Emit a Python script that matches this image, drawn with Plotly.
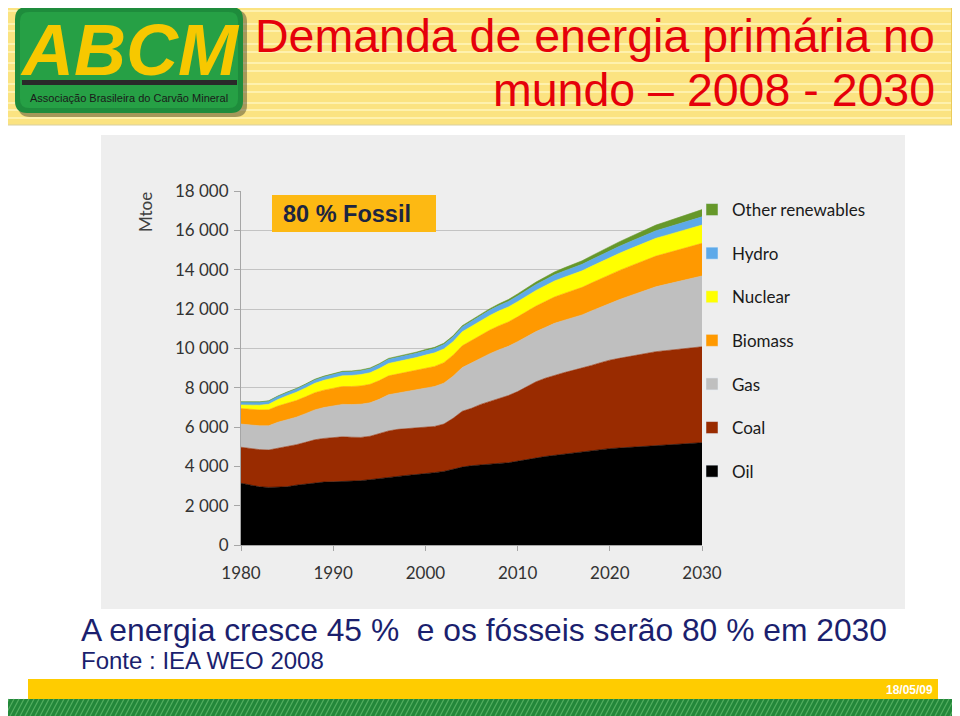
import plotly.graph_objects as go

# ---------------- data (Mtoe) ----------------
years = list(range(1980, 2031))

oil = [3140, 3040, 2960, 2930, 2950, 2960, 3040, 3100, 3170, 3200,
       3210, 3220, 3240, 3270, 3320, 3380, 3450, 3500, 3540, 3580,
       3620, 3680, 3740, 3850, 3960, 4030, 4080, 4120, 4150, 4180,
       4250, 4330, 4420, 4500, 4560, 4620, 4680, 4740, 4800, 4850,
       4900, 4930, 4960, 4990, 5020, 5050, 5080, 5110, 5140, 5170,
       5200]
coal = [1830, 1860, 1890, 1900, 1970, 2040, 2060, 2120, 2180, 2220,
        2260, 2280, 2240, 2200, 2210, 2270, 2350, 2380, 2380, 2370,
        2370, 2350, 2410, 2590, 2840, 2920, 3070, 3180, 3300, 3420,
        3550, 3720, 3880, 3980, 4080, 4140, 4200, 4250, 4330, 4420,
        4500, 4560, 4620, 4670, 4730, 4780, 4800, 4820, 4840, 4860,
        4880]
gas = [1180, 1200, 1210, 1230, 1320, 1370, 1400, 1460, 1520, 1570,
       1610, 1650, 1660, 1690, 1700, 1760, 1840, 1850, 1870, 1930,
       1990, 2030, 2080, 2140, 2220, 2300, 2370, 2430, 2480, 2500,
       2540, 2550, 2550, 2580, 2630, 2660, 2680, 2710, 2770, 2830,
       2890, 2980, 3060, 3140, 3220, 3300, 3360, 3420, 3480, 3540,
       3600]
biomass = [790, 800, 805, 815, 825, 835, 845, 855, 870, 885,
           900, 910, 920, 930, 940, 950, 960, 970, 980, 990,
           1000, 1020, 1040, 1070, 1110, 1150, 1180, 1200, 1220, 1240,
           1260, 1280, 1300, 1320, 1340, 1360, 1380, 1400, 1420, 1440,
           1460, 1480, 1500, 1520, 1540, 1560, 1580, 1600, 1620, 1640,
           1660]
nuclear = [180, 215, 245, 280, 330, 385, 420, 450, 480, 500,
           525, 545, 560, 575, 590, 610, 630, 630, 640, 660,
           675, 690, 700, 690, 715, 725, 735, 745, 755, 765,
           775, 785, 795, 805, 815, 825, 833, 841, 849, 857,
           865, 873, 881, 889, 897, 905, 910, 915, 920, 925,
           930]
hydro = [150, 152, 155, 160, 163, 166, 170, 172, 176, 178,
         184, 188, 190, 196, 198, 206, 210, 214, 218, 222,
         226, 224, 230, 234, 244, 252, 261, 268, 274, 280,
         287, 293, 299, 305, 311, 318, 324, 330, 336, 342,
         348, 355, 361, 368, 375, 382, 388, 394, 401, 408,
         415]
other_renewables = [10, 12, 14, 16, 19, 22, 25, 28, 31, 34,
                    36, 38, 40, 42, 43, 45, 47, 49, 51, 53,
                    55, 57, 59, 61, 63, 65, 68, 76, 85, 95,
                    105, 115, 125, 136, 147, 158, 170, 182, 194, 206,
                    218, 232, 246, 260, 274, 288, 304, 320, 336, 352,
                    370]

series_names = ["Oil", "Coal", "Gas", "Biomass", "Nuclear", "Hydro", "Other renewables"]
series_values = [oil, coal, gas, biomass, nuclear, hydro, other_renewables]
series_colors = ["#000000", "#992B00", "#BFBFBF", "#FF9900", "#FFFF00", "#5DA9E9", "#66982A"]

y_tick_values = [0, 2000, 4000, 6000, 8000, 10000, 12000, 14000, 16000, 18000]
y_tick_labels = ["0", "2 000", "4 000", "6 000", "8 000", "10 000", "12 000", "14 000", "16 000", "18 000"]
x_tick_values = [1980, 1990, 2000, 2010, 2020, 2030]
x_tick_labels = ["1980", "1990", "2000", "2010", "2020", "2030"]

# ---------------- layout helpers (reference pixel -> paper) ----------------
OFF = 8                      # page body margin
W, H = 960 - OFF, 716 - OFF  # figure size
PL, PR, PT, PB = 241, 702, 191, 545   # plot area in reference pixels


def fx(x):
    return (x - PL) / (PR - PL)


def fy(y):
    return (PB - y) / (PB - PT)


def rect(x0, y0, x1, y1, color, line=None, layer="below"):
    d = dict(type="rect", xref="paper", yref="paper",
             x0=fx(x0), x1=fx(x1), y0=fy(y1), y1=fy(y0),
             fillcolor=color, layer=layer, line=dict(width=0))
    if line:
        d["line"] = line
    return d


def rrect_path(x0, y0, x1, y1, r):
    P = lambda x, y: f"{fx(x):.5f},{fy(y):.5f}"
    pts = ["M" + P(x0 + r, y0), "L" + P(x1 - r, y0),
           "Q" + P(x1, y0) + " " + P(x1, y0 + r), "L" + P(x1, y1 - r),
           "Q" + P(x1, y1) + " " + P(x1 - r, y1), "L" + P(x0 + r, y1),
           "Q" + P(x0, y1) + " " + P(x0, y1 - r), "L" + P(x0, y0 + r),
           "Q" + P(x0, y0) + " " + P(x0 + r, y0)]
    return " ".join(pts) + " Z"


fig = go.Figure()

# legend swatches (square symbols)
for rank, (name, color) in enumerate(zip(series_names[::-1], series_colors[::-1])):
    fig.add_trace(go.Bar(x=[None], y=[None], name=name, marker_color=color,
                         legendgroup=name, legendrank=rank + 1, showlegend=True,
                         hoverinfo="skip"))

# stacked areas
for name, vals, color in zip(series_names, series_values, series_colors):
    fig.add_trace(go.Scatter(x=years, y=vals, name=name, stackgroup="energy",
                             mode="lines", line=dict(width=0.6, color=color),
                             fillcolor=color, legendgroup=name, showlegend=False,
                             hoverinfo="x+y+name"))

shapes = []
# header
shapes.append(rect(0, 0, 957, 125, "#FBE381", line=dict(color="#D8CFA0", width=1)))
stripe_ys = [6, 11, 24, 31, 44, 52, 63, 71, 84, 92, 103, 110, 118]
sp = " ".join(f"M{fx(0):.5f},{fy(y):.5f} L{fx(957):.5f},{fy(y):.5f}" for y in stripe_ys)
shapes.append(dict(type="path", xref="paper", yref="paper", path=sp, layer="below",
                   line=dict(color="rgba(255,246,190,0.75)", width=2)))
shapes.append(rect(951, 0, 957, 125, "#EBCB5A"))
# logo
shapes.append(dict(type="path", xref="paper", yref="paper", layer="below",
                   path=rrect_path(18, 10, 247, 117, 12),
                   fillcolor="rgba(60,60,40,0.45)", line=dict(width=0)))
shapes.append(dict(type="path", xref="paper", yref="paper", layer="below",
                   path=rrect_path(15, 7, 243, 113, 12),
                   fillcolor="#1E8C3C", line=dict(width=0)))
shapes.append(dict(type="path", xref="paper", yref="paper", layer="below",
                   path=rrect_path(20, 12, 238, 108, 9),
                   fillcolor="#26A045", line=dict(width=0)))
shapes.append(rect(22, 80, 237, 85, "#2A2A2A"))
# chart panel
shapes.append(rect(101, 135, 905, 609, "#EEEEEE"))
# 80 % box
shapes.append(rect(272, 195, 436, 232, "#FDB913", layer="above"))
# bottom bars
shapes.append(rect(28, 679, 938, 699, "#FFCC00"))
shapes.append(rect(0, 699, 960, 716, "#23873A"))
gp = " ".join(f"M{fx(x):.5f},{fy(716):.5f} L{fx(x + 9):.5f},{fy(699):.5f}" for x in range(-10, 965, 5))
shapes.append(dict(type="path", xref="paper", yref="paper", path=gp, layer="below",
                   line=dict(color="#53AE60", width=1.2)))

ann = []


def text(x, y, s, size, color, xanchor="center", family="Liberation Sans, Arial, sans-serif",
         weight="normal", style="normal", angle=0):
    ann.append(dict(x=fx(x), y=fy(y), xref="paper", yref="paper", text=s, showarrow=False,
                    xanchor=xanchor, yanchor="middle", textangle=angle,
                    font=dict(size=size, color=color, family=family, weight=weight, style=style)))


text(130, 50, "ABCM", 72, "#F7C800", weight="bold", style="italic")
text(129, 98, "Associação Brasileira do Carvão Mineral", 11, "#1A1A1A")
text(937, 36, "Demanda de energia primária no", 46.5, "#E5000A", xanchor="right")
text(937, 90, "mundo – 2008 - 2030", 46.5, "#E5000A", xanchor="right")
text(146, 212, "Mtoe", 17, "#404040", family="Lato, sans-serif", angle=-90)
text(281, 214, "80 % Fossil", 23.5, "#1C2541", xanchor="left", weight="bold")
text(79, 630, "A energia cresce 45 %  e os fósseis serão 80 % em 2030", 31.8, "#1B1F6E", xanchor="left")
text(79, 660, "Fonte : IEA WEO 2008", 24, "#1B1F6E", xanchor="left")
text(935, 690, "18/05/09", 12, "#FFFFFF", xanchor="right", weight="bold")

fig.update_layout(
    width=W, height=H, autosize=False,
    margin=dict(l=PL - OFF, r=W - (PR - OFF), t=PT - OFF, b=H - (PB - OFF), pad=0),
    paper_bgcolor="#FFFFFF", plot_bgcolor="rgba(0,0,0,0)",
    shapes=shapes, annotations=ann,
    showlegend=True,
    legend=dict(x=fx(692), y=fy(192), xanchor="left", yanchor="top",
                traceorder="grouped", tracegroupgap=18.5,
                font=dict(family="Lato, sans-serif", size=17, color="#1A1A1A"),
                bgcolor="rgba(0,0,0,0)"),
    xaxis=dict(range=[1980, 2030], tickvals=x_tick_values, ticktext=x_tick_labels,
               showgrid=False, zeroline=False, showline=True, linecolor="#A6A6A6", linewidth=1,
               ticks="outside", ticklen=5, tickcolor="#A6A6A6",
               tickfont=dict(family="Lato, sans-serif", size=17, color="#333333"),
               ticklabelstandoff=8, fixedrange=True),
    yaxis=dict(range=[0, 18000], tickvals=y_tick_values, ticktext=y_tick_labels,
               showgrid=True, gridcolor="#C3C3C3", gridwidth=1, zeroline=False,
               showline=True, linecolor="#A6A6A6", linewidth=1,
               ticks="outside", ticklen=6, tickcolor="#A6A6A6",
               tickfont=dict(family="Lato, sans-serif", size=17, color="#333333"),
               ticklabelstandoff=2, fixedrange=True),
    barmode="stack",
)

fig.write_html("out.html")
